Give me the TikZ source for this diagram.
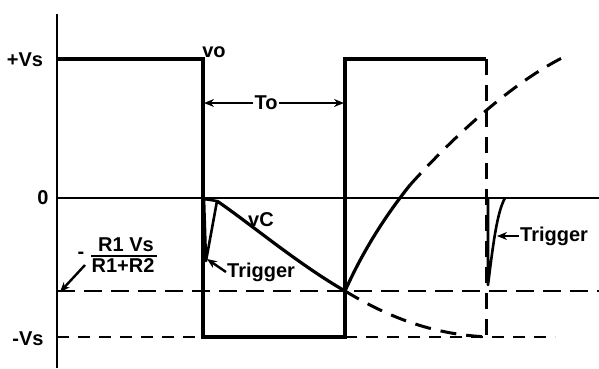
\documentclass[tikz,border=0pt]{standalone}
\usepackage{fontspec}
\setmainfont{Liberation Sans}
\usetikzlibrary{arrows.meta}
\begin{document}
\begin{tikzpicture}[x=1pt,y=-1pt,
  lbl/.style={font=\fontsize{20}{22}\selectfont\bfseries, inner sep=1pt},
  wave/.style={line width=3.2pt},
  spike/.style={line width=2.6pt, line join=round},
  axisline/.style={line width=2.8pt},
  level/.style={line width=2.2pt},
  longdash/.style={line width=2.2pt, dash pattern=on 18pt off 9pt},
  shortdash/.style={line width=2.2pt, dash pattern=on 12pt off 9pt},
  curvedash/.style={line width=3pt, dash pattern=on 16pt off 10pt},
  pointer/.style={line width=2.4pt, -{Stealth[length=10pt,width=8pt]}}
]
\useasboundingbox (0,0) rectangle (599,368);
% axis and levels
\draw[axisline] (57,14) -- (57,368);
\draw[level] (57,198) -- (599,198);
\draw[longdash] (57,291) -- (599,291);
\draw[shortdash] (57,337) -- (203,337);
\draw[shortdash] (345,337) -- (555,337);
% output square wave
\draw[wave] (57,59) -- (203,59) -- (203,337) -- (345,337) -- (345,59) -- (486,59);
\draw[curvedash] (486,59) -- (486,337);
% capacitor voltage
\draw[spike] (204,199) -- (206,261) -- (217,201) -- cycle;
\draw[wave] (217,201) .. controls (248,222) and (298,264) .. (345,291);
\draw[wave] (345,291) .. controls (358,262) and (378,225) .. (410,185);
\draw[curvedash] (410,185) .. controls (455,135) and (515,80) .. (568,55);
\draw[curvedash] (345,291) .. controls (385,315) and (430,335) .. (490,337);
\draw[spike] (488,199) -- (488,285) .. controls (493,245) and (497,212) .. (505,198);
% labels
\node[lbl] (vs) at (25,60) {+Vs};
\node[lbl] (zero) at (43,198) {0};
\node[lbl] (mvs) at (28,339) {-Vs};
\node[lbl] (vo) at (214,52) {vo};
\node[lbl] (To) at (266,103) {To};
\coordinate (toL) at (204,103);
\coordinate (toR) at (344,103);
\draw[pointer] (To.west) -- (toL);
\draw[pointer] (To.east) -- (toR);
\node[lbl] (vc) at (261,220) {vC};
\node[lbl, anchor=west] (trig1) at (226,272) {Trigger};
\coordinate (sp1) at (207,259);
\draw[pointer] (trig1.west) -- (sp1);
\node[lbl, anchor=west] (trig2) at (519,236) {Trigger};
\coordinate (sp2) at (497,236);
\draw[pointer] (trig2.west) -- (sp2);
% fraction
\node[lbl] (minus) at (81,255) {-};
\node[lbl] (num) at (126,245) {R1 Vs};
\node[lbl] (den) at (123,266) {R1+R2};
\draw[line width=2pt] (91,256) -- (157,256);
\coordinate (fracTail) at (85,265);
\coordinate (lvlPt) at (60,292);
\draw[pointer] (fracTail) -- (lvlPt);
\end{tikzpicture}
\end{document}
